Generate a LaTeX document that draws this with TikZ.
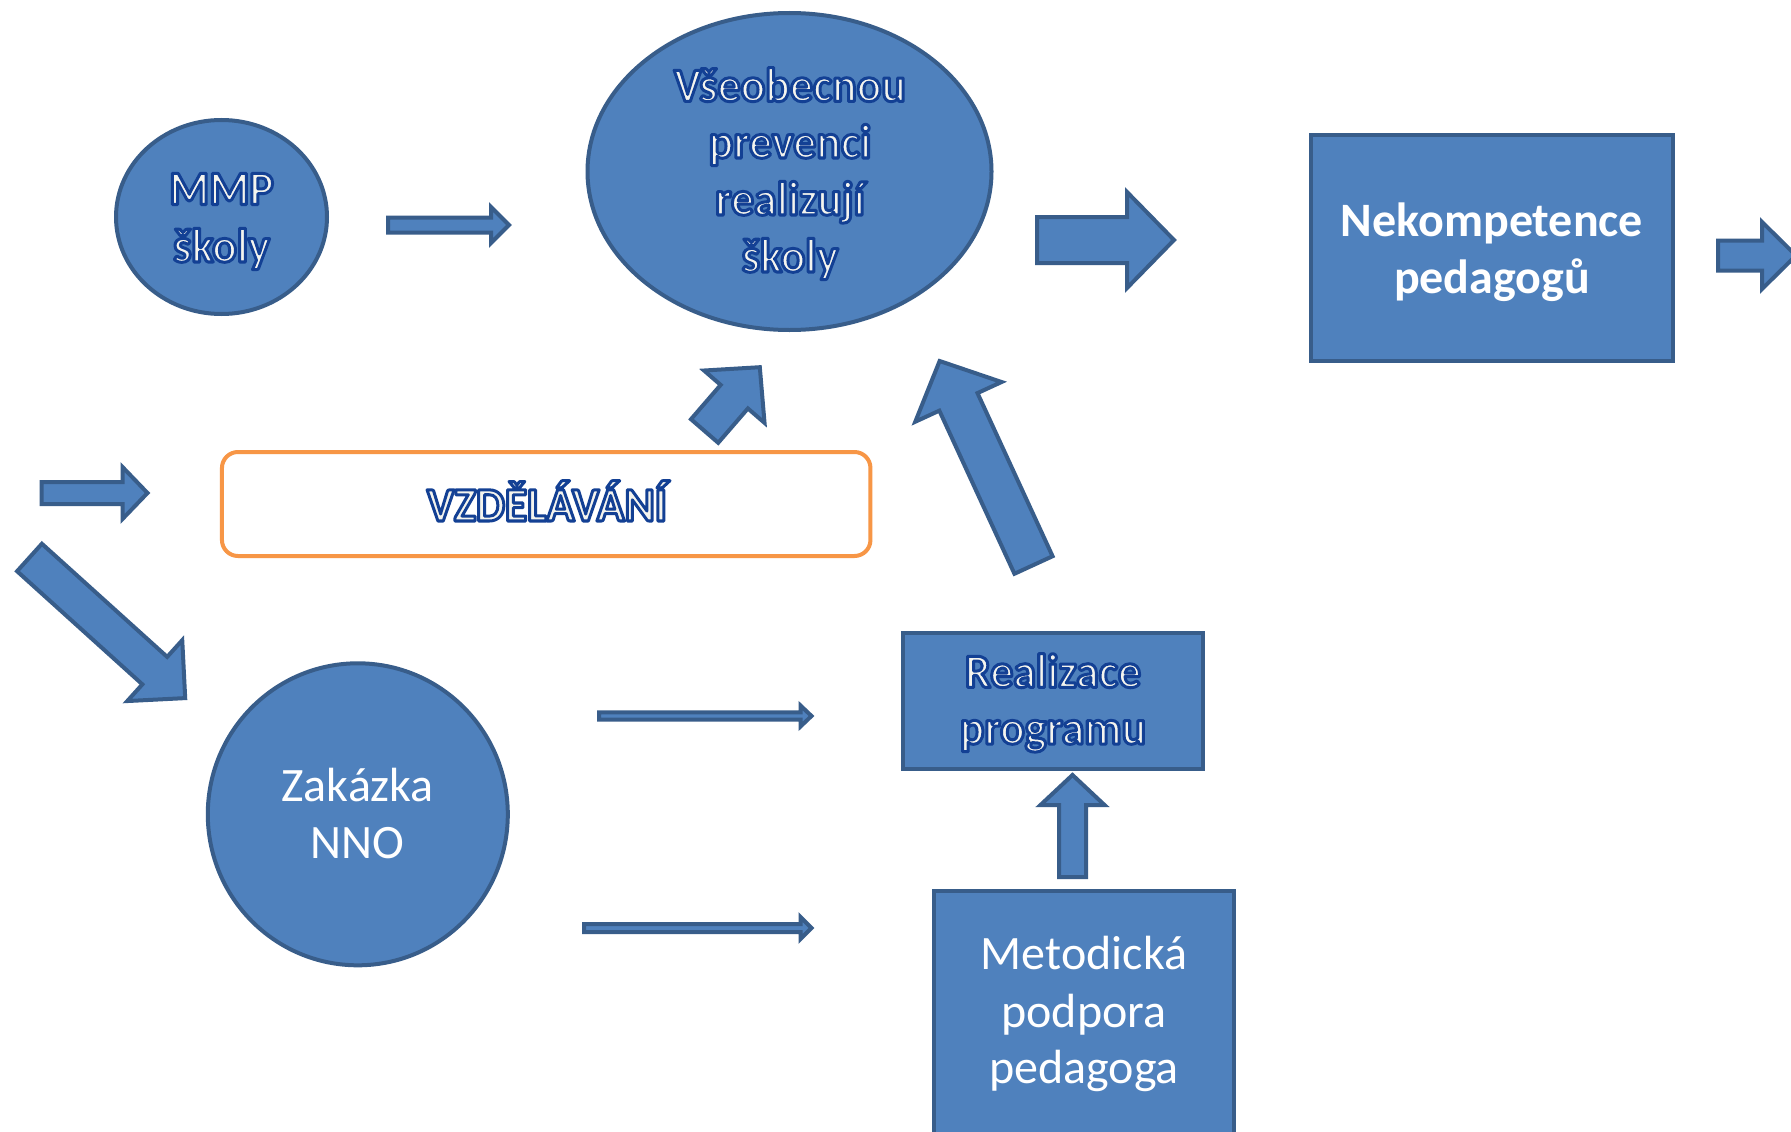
\documentclass[tikz,border=0pt]{standalone}
\usepackage{fontspec}
\setmainfont{Carlito}
\newfontfamily\olfont[FakeStretch=0.955]{Carlito Bold}
\usetikzlibrary{shapes.geometric,calc}
\definecolor{fillb}{RGB}{79,129,189}
\definecolor{lineb}{RGB}{56,93,138}
\definecolor{ivory}{RGB}{244,244,238}
\definecolor{orangeb}{RGB}{247,150,70}
% outlined text: fill with the node's text colour, stroke in dark blue (PDF text render mode 2)
\newcommand\myolt[1]{{\olfont\special{pdf:literal direct 2 Tr 3 w 1 j 0.075 0.25 0.58 RG}#1\special{pdf:literal direct 0 Tr}}}
\newcommand\blockarrow[5]{% tail, tip, shaft half width, head half width, head length
  \coordinate (ba-n) at ($(#2)!#5pt!(#1)$);
  \draw[arr] ($(#1)!#3pt!90:(#2)$) -- ($(ba-n)!#3pt!90:(#2)$) -- ($(ba-n)!#4pt!90:(#2)$)
    -- (#2) -- ($(ba-n)!#4pt!-90:(#2)$) -- ($(ba-n)!#3pt!-90:(#2)$)
    -- ($(#1)!#3pt!-90:(#2)$) -- cycle;}
\tikzset{
  shapebox/.style={draw=lineb,fill=fillb,line width=4pt,inner sep=0pt,rectangle},
  ovalbox/.style={shapebox,ellipse},
  arr/.style={draw=lineb,fill=fillb,line width=4pt,line join=miter},
  txt/.style={anchor=base,inner sep=0pt,font=\fontsize{48}{57}\selectfont,text=white},
  oltxt/.style={txt,text=ivory},
  boldtxt/.style={txt,font=\fontsize{48}{57}\selectfont\bfseries},
}
\begin{document}
\begin{tikzpicture}[x=1pt,y=-1pt]
\useasboundingbox (0,0) rectangle (1791,1132);
\clip (0,0) rectangle (1791,1132);
\fill[white] (0,0) rectangle (1791,1132);
% shapes
\node[ovalbox,minimum width=211pt,minimum height=194pt] (mmp) at (221.5,217) {};
\node[ovalbox,minimum width=404pt,minimum height=317pt] (vse) at (789.5,171.5) {};
\node[shapebox,minimum width=361.5pt,minimum height=226pt] (nek) at (1491.8,247.5) {};
\node[draw=orangeb,fill=white,line width=4pt,rounded corners=16pt,inner sep=0pt,
      minimum width=648.5pt,minimum height=104pt] (vzd) at (546.2,504) {};
\node[shapebox,minimum width=300pt,minimum height=135.5pt] (real) at (1053,701.2) {};
\node[ovalbox,minimum width=300pt,minimum height=302pt] (zak) at (357.8,814.3) {};
\node[shapebox,minimum width=300pt,minimum height=257pt] (met) at (1084,1019.5) {};
% texts
\node[oltxt] (t-mmp1) at (221.5,204.5) {\myolt{MMP}};
\node[oltxt] (t-mmp2) at (221.5,262) {\myolt{školy}};
\node[oltxt] (t-vse1) at (790,101.4) {\myolt{Všeobecnou}};
\node[oltxt] (t-vse2) at (790,158) {\myolt{prevenci}};
\node[oltxt] (t-vse3) at (790,215) {\myolt{realizují}};
\node[oltxt] (t-vse4) at (790,272) {\myolt{školy}};
\node[boldtxt] (t-nek1) at (1492,236) {Nekompetence};
\node[boldtxt] (t-nek2) at (1492,293) {pedagogů};
\node[oltxt] (t-vzd) at (547,521) {\myolt{VZDĚLÁVÁNÍ}};
\node[oltxt] (t-real1) at (1053,687.4) {\myolt{Realizace}};
\node[oltxt] (t-real2) at (1053,744) {\myolt{programu}};
\node[txt] (t-zak1) at (357.8,801.5) {Zakázka};
\node[txt] (t-zak2) at (357.8,858.7) {NNO};
\node[txt] (t-met1) at (1084,969.6) {Metodická};
\node[txt] (t-met2) at (1084,1027) {podpora};
\node[txt] (t-met3) at (1084,1083.6) {pedagoga};
% arrow end points
\coordinate (a1s) at (388,225);     \coordinate (a1e) at (509,225);
\coordinate (a2s) at (1037,240);    \coordinate (a2e) at (1174,240);
\coordinate (a3s) at (1718,255.5);  \coordinate (a3e) at (1796,255.5);
\coordinate (a4s) at (41.5,493);    \coordinate (a4e) at (147.5,493);
\coordinate (a5s) at (29.5,557.5);  \coordinate (a5e) at (185.2,698.1);
\coordinate (a6s) at (704.6,431);   \coordinate (a6e) at (759.8,367.2);
\coordinate (a7s) at (1033.5,565);  \coordinate (a7e) at (939.6,361);
\coordinate (a8s) at (599,716);     \coordinate (a8e) at (811.5,716);
\coordinate (a9s) at (584,928);     \coordinate (a9e) at (811.5,928);
\coordinate (a10s) at (1072.5,877); \coordinate (a10e) at (1072.5,775);
% block arrows
\blockarrow{a1s}{a1e}{7.5}{18}{18}
\blockarrow{a2s}{a2e}{23}{48}{47}
\blockarrow{a3s}{a3e}{15}{33.5}{34}
\blockarrow{a4s}{a4e}{11}{26}{25}
\blockarrow{a5s}{a5e}{18.5}{41}{41}
\blockarrow{a6s}{a6e}{18}{40}{39}
\blockarrow{a7s}{a7e}{21}{47.5}{45}
\blockarrow{a8s}{a8e}{3.7}{10.5}{11}
\blockarrow{a9s}{a9e}{4}{11}{11}
\blockarrow{a10s}{a10e}{13.5}{32}{30}
\end{tikzpicture}
\end{document}
